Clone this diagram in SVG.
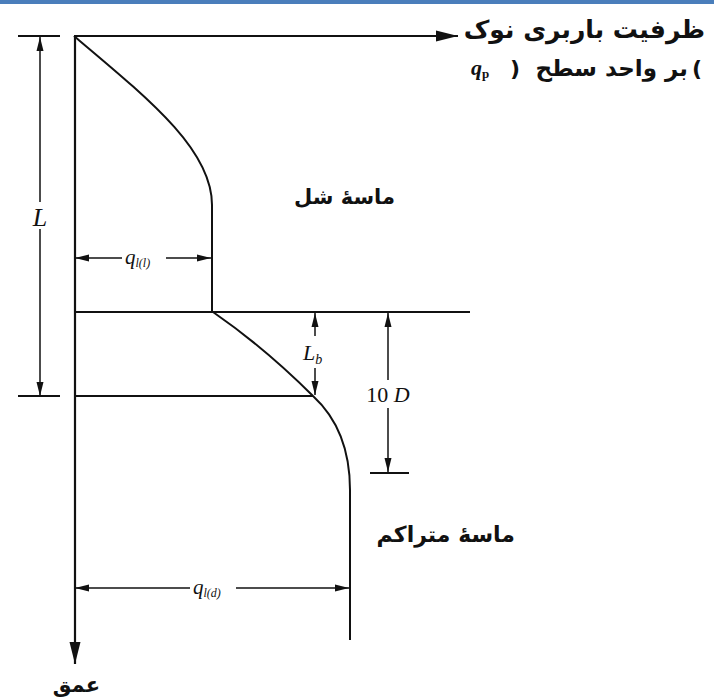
<svg xmlns="http://www.w3.org/2000/svg" width="714" height="699" viewBox="0 0 714 699">
<defs>
<marker id="big" markerUnits="userSpaceOnUse" markerWidth="24" markerHeight="14" refX="22" refY="7" orient="auto"><path d="M0,1.5 L22,7 L0,12.5 Z" fill="#111"/></marker>
<marker id="dim" markerUnits="userSpaceOnUse" markerWidth="16" markerHeight="10" refX="14" refY="5" orient="auto"><path d="M0,1.5 L14,5 L0,8.5 Z" fill="#111"/></marker>
<style>
.ax{stroke:#111;stroke-width:2.2;fill:none}
.ln{stroke:#111;stroke-width:2;fill:none}
.dm{stroke:#111;stroke-width:1.5;fill:none}
.fa{font-family:"DejaVu Sans",sans-serif;font-weight:bold;fill:#111}
.sr{font-family:"Liberation Serif",serif;fill:#111}
</style>
</defs>
<rect x="0" y="0" width="714" height="4" fill="#4a7ebb"/>
<g id="connectors">
<line class="ax" x1="74" y1="36" x2="458" y2="36" marker-end="url(#big)"/>
<line class="ax" x1="75" y1="36" x2="75" y2="664" marker-end="url(#big)"/>
<path class="ln" d="M74,36 C150,100 212,150 212,205 L212,311"/>
<line class="ln" x1="74" y1="312" x2="470" y2="312"/>
<path class="ln" d="M213,312 Q265,348 313,396 Q350,430 350,490 L350,640"/>
<line class="ln" x1="74" y1="396" x2="313" y2="396"/>
<line class="ln" x1="18" y1="36" x2="60" y2="36"/>
<line class="ln" x1="18" y1="396" x2="60" y2="396"/>
<line class="dm" x1="40" y1="202" x2="40" y2="37" marker-end="url(#dim)"/>
<line class="dm" x1="40" y1="229" x2="40" y2="396" marker-end="url(#dim)"/>
<line class="dm" x1="122" y1="258" x2="75" y2="258" marker-end="url(#dim)"/>
<line class="dm" x1="166" y1="258" x2="211" y2="258" marker-end="url(#dim)"/>
<line class="dm" x1="190" y1="588" x2="75" y2="588" marker-end="url(#dim)"/>
<line class="dm" x1="236" y1="588" x2="349" y2="588" marker-end="url(#dim)"/>
<line class="dm" x1="315" y1="336" x2="315" y2="313" marker-end="url(#dim)"/>
<line class="dm" x1="315" y1="368" x2="315" y2="395" marker-end="url(#dim)"/>
<line class="dm" x1="388" y1="380" x2="388" y2="313" marker-end="url(#dim)"/>
<line class="dm" x1="388" y1="408" x2="388" y2="472" marker-end="url(#dim)"/>
<line class="ln" x1="370" y1="473" x2="409" y2="473"/>
</g>
<g id="title">
<text class="fa" x="705" y="38" font-size="25" text-anchor="end">ظرفیت باربری نوک</text>
<text class="fa" x="702" y="76" font-size="22" text-anchor="end">(</text>
<text class="fa" x="688" y="76" font-size="23" text-anchor="end">بر واحد سطح</text>
<text class="fa" x="510" y="76" font-size="22" text-anchor="start">)</text>
<text class="sr" x="471" y="75" font-size="22" font-style="italic" font-weight="bold">q<tspan font-size="13" dy="3" font-style="normal">p</tspan></text>
</g>
<g id="label-L"><text class="sr" x="40" y="226" font-size="26" font-style="italic" text-anchor="middle">L</text></g>
<g id="label-qll"><text class="sr" x="125" y="264" font-size="21" font-style="italic">q<tspan font-size="12" dy="3">l(l)</tspan></text></g>
<g id="label-qld"><text class="sr" x="193" y="594" font-size="21" font-style="italic">q<tspan font-size="12" dy="3">l(d)</tspan></text></g>
<g id="label-Lb"><text class="sr" x="303" y="360" font-size="22" font-style="italic">L<tspan font-size="14" dy="4">b</tspan></text></g>
<g id="label-10D"><text class="sr" x="388" y="402" font-size="22" text-anchor="middle">10 <tspan font-style="italic">D</tspan></text></g>
<g id="loose-sand"><text class="fa" x="395" y="204" font-size="21" text-anchor="end">ماسهٔ شل</text></g>
<g id="dense-sand"><text class="fa" x="515" y="542" font-size="22" text-anchor="end">ماسهٔ متراکم</text></g>
<g id="depth"><text class="fa" x="100" y="692" font-size="21" text-anchor="end">عمق</text></g>
</svg>
